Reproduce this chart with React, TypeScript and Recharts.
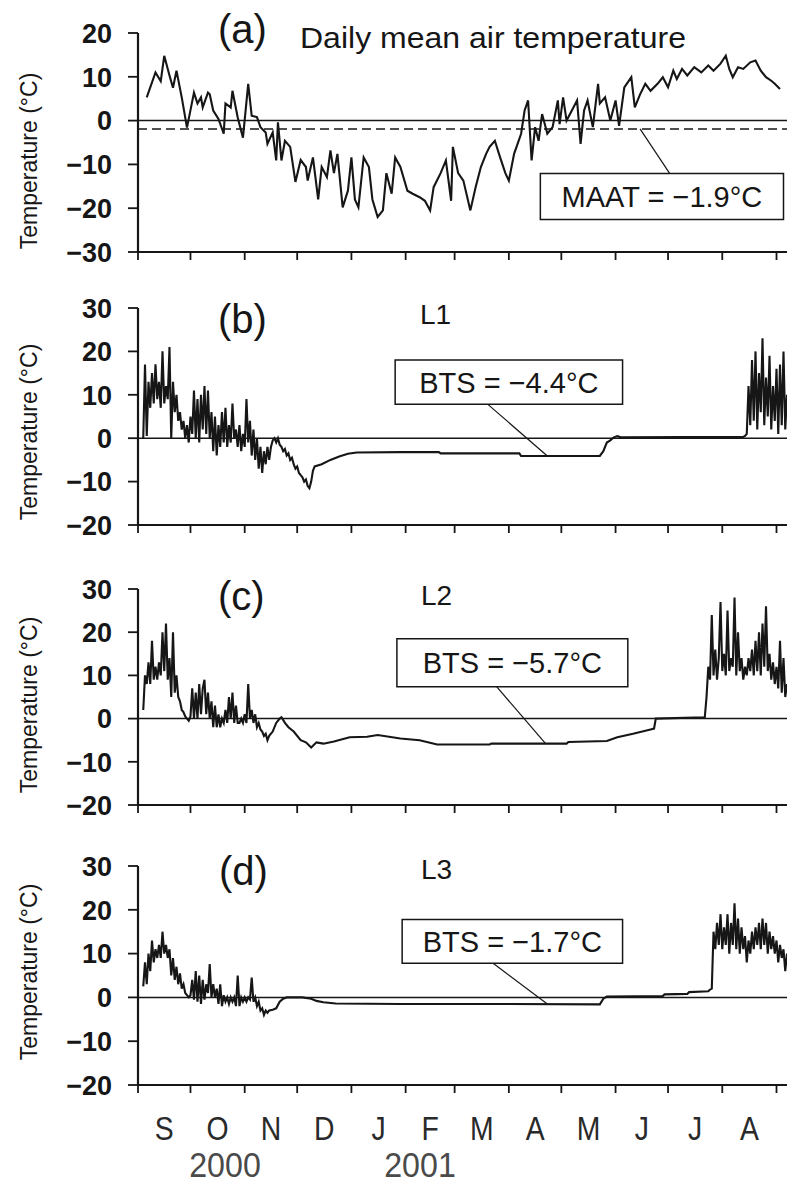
import React from 'react';
import { LineChart, Line, XAxis, YAxis, ReferenceLine, ReferenceArea } from 'recharts';

const FONT = '"Liberation Sans", Arial, Helvetica, sans-serif';
const INK = '#161616';

// x axis: days since 1 Sep 2000
const monthStartDays = [0, 30, 61, 91, 122, 153, 181, 212, 242, 273, 303, 334, 365];
const monthMidDays = [15, 45.5, 76, 106.5, 137.5, 167, 196.5, 227, 257.5, 288, 318.5, 349.5];
const monthLabels = ['S', 'O', 'N', 'D', 'J', 'F', 'M', 'A', 'M', 'J', 'J', 'A'];
const yearLabels = ['2000', '2001'];
const airTicks = [-30, -20, -10, 0, 10, 20];
const soilTicks = [-20, -10, 0, 10, 20, 30];

const maat = -1.9;
const btsL1 = -4.4;
const btsL2 = -5.7;
const btsL3 = -1.7;

// (a) daily mean air temperature
const airDays = [5, 10, 13, 15, 18, 20, 22, 25, 28, 32, 34, 36, 37, 40, 41, 43, 46, 49, 50, 53, 54, 57, 60, 63, 65, 68, 70, 73, 74, 77, 79, 80, 82, 84, 87, 90, 93, 96, 97, 100, 103, 105, 108, 110, 112, 114, 117, 120, 122, 124, 126, 129, 132, 134, 137, 140, 142, 145, 147, 150, 154, 157, 161, 164, 167, 169, 173, 176, 179, 180, 183, 186, 190, 193, 196, 199, 201, 204, 207, 210, 212, 215, 219, 221, 223, 225, 227, 229, 231, 234, 237, 240, 241, 243, 245, 248, 251, 253, 255, 257, 260, 263, 264, 267, 270, 273, 275, 278, 282, 284, 287, 290, 293, 297, 300, 303, 306, 308, 311, 314, 318, 322, 326, 329, 333, 336, 338, 340, 343, 346, 350, 353, 356, 359, 362, 364, 367];
const airTemp = [5.3, 11, 9, 14.8, 10.3, 7.5, 11.4, 5.3, -1.6, 6.4, 3.9, 5.3, 3, 6.4, 6, 2.3, 0.4, -3, 3.9, 3, 6.8, 0.7, -3.9, 8.4, 1.1, 0.8, -1.5, -2.7, -5.3, -2.7, -9.1, -0.4, -9.1, -4.6, -6, -14, -9, -10.6, -13.7, -8.4, -18, -10.6, -12.9, -6.8, -12, -7.6, -19.8, -16, -8.4, -18, -19.8, -8.4, -10.6, -18, -22, -20.5, -12, -16.7, -8.4, -10.6, -16, -16.7, -17.5, -18.3, -20.5, -15.2, -12, -9.1, -18.3, -6, -12, -13.7, -20.5, -15.2, -10.6, -7.6, -6, -4.6, -8.4, -12, -13.7, -7.6, -3, 2.3, 4.6, -9.1, -1.5, -4.6, 1.5, -3, -1.5, 4.6, -0.8, 5.3, 0, 2.3, 4.6, -5.3, 2.3, 4.6, -1.5, 8.4, 3.9, 5.3, 0, 4.6, -1.2, 7.6, 9.9, 3, 6, 8.4, 6.8, 8.4, 9.9, 7.6, 11.4, 9.5, 11.8, 10.3, 12.2, 11, 12.6, 11.4, 13, 14.8, 11.8, 9.9, 12.2, 11.8, 13.3, 13.7, 11.4, 9.9, 9.1, 8.4, 7.2];

// (b) L1 ground surface temperature
const l1Days = [3, 4, 5, 6, 7, 8, 9, 10, 11, 12, 13, 14, 15, 16, 17, 18, 19, 20, 21, 22, 23, 24, 25, 26, 27, 28, 29, 30, 31, 32, 33, 34, 35, 36, 37, 38, 39, 40, 41, 42, 43, 44, 45, 46, 47, 48, 49, 50, 51, 52, 53, 54, 55, 56, 57, 58, 59, 60, 61, 62, 63, 64, 65, 66, 67, 68, 69, 70, 71, 72, 73, 74, 75, 76, 77, 78, 79, 80, 81, 82, 83, 84, 85, 86, 87, 88, 89, 90, 91, 92, 93, 94, 95, 96, 97, 98, 99, 100, 101, 105, 110, 115, 120, 125, 150, 172, 173, 218, 219, 264, 266, 268, 270, 272, 274, 276, 346, 347, 348, 349, 350, 351, 352, 353, 354, 355, 356, 357, 358, 359, 360, 361, 362, 363, 364, 365, 366, 367, 368, 369, 370, 371];
const l1Temp = [0, 17, 0.5, 13, 7, 15, 8, 17, 9, 13, 7, 20, 8, 12, 9, 21, 0, 13, 6, 10, 4, 6, 2, 4, 0, 3, -1, 5, 1, 11, 0, 9, -1, 10, 2, 12, 1, 11, 0, 6, -3, 5, -4, 3, -2, 6, -1, 7, -2, 3, -1, 8, 0, 2, -2, 3, -3, 1, -2, 9, -1, 4, -4, 2, -5, 0, -7, -2, -8, -3, -6, -2, -5, -2, -0.5, 0, -1, 0, -1.5, -2, -3, -2.5, -4, -3.5, -5, -4.5, -6, -7, -6.5, -8, -8.5, -9, -10, -9.5, -11, -11.5, -10, -7.5, -6.5, -6, -5, -4.2, -3.6, -3.3, -3.2, -3.2, -3.5, -3.5, -4.1, -4.1, -3, -1, -0.5, 0.2, 0.5, 0.2, 0.3, 0.5, 1, 12, 3, 18, 4, 20, 2, 15, 6, 23, 3, 14, 5, 19, 2, 12, 4, 16, 1, 17, 3, 20, 2, 10];

// (c) L2 ground surface temperature
const l2Days = [3, 4, 5, 6, 7, 8, 9, 10, 11, 12, 13, 14, 15, 16, 17, 18, 19, 20, 21, 22, 23, 24, 25, 26, 27, 28, 29, 30, 31, 32, 33, 34, 35, 36, 37, 38, 39, 40, 41, 42, 43, 44, 45, 46, 47, 48, 49, 50, 51, 52, 53, 54, 55, 56, 57, 58, 59, 60, 61, 62, 63, 64, 65, 66, 67, 68, 69, 70, 71, 72, 73, 74, 75, 77, 79, 81, 82, 84, 86, 89, 93, 96, 99, 102, 106, 112, 121, 131, 137, 150, 161, 171, 201, 202, 245, 246, 268, 274, 283, 293, 295, 296, 324, 325, 326, 327, 328, 329, 330, 331, 332, 333, 334, 335, 336, 337, 338, 339, 340, 341, 342, 343, 344, 345, 346, 347, 348, 349, 350, 351, 352, 353, 354, 355, 356, 357, 358, 359, 360, 361, 362, 363, 364, 365, 366, 367, 368, 369, 370, 371];
const l2Temp = [2, 10, 8, 13, 8, 18, 9, 12, 9, 13, 10, 20, 11, 22, 9, 14, 5, 20, 6, 10, 5, 4, 2, 1.5, 0.5, 0, -0.5, 0.5, 7, 0, 6, 0, 8, 1, 7, 9, 1, 6, 0, 4, -2, 3, -2, 1, -2, 0, -1, 2, -1, 5, 0, 6, -1, 3, -1, -1, 0, -1, 1, -1, 8, 0, 2, -1, 1, -2, -1, -2.5, -3, -4, -3.5, -5, -4, -3, -1, 0, 0.3, -1, -2, -3, -5, -5.5, -6.7, -5.5, -5.8, -5.3, -4.3, -4.2, -3.8, -4.6, -5, -6, -6, -5.8, -5.8, -5.4, -5.2, -4.3, -3.5, -2.5, -2.3, 0, 0.3, 5, 12, 9, 24, 10, 16, 9, 14, 27, 11, 15, 10, 25, 11, 14, 12, 28, 10, 20, 11, 14, 9, 12, 10, 14, 11, 16, 10, 18, 11, 20, 10, 22, 12, 26, 11, 15, 9, 13, 8, 12, 7, 18, 6, 14, 5, 8];

// (d) L3 ground surface temperature
const l3Days = [3, 4, 5, 6, 7, 8, 9, 10, 11, 12, 13, 14, 15, 16, 17, 18, 19, 20, 21, 22, 23, 24, 25, 26, 27, 28, 29, 30, 31, 32, 33, 34, 35, 36, 37, 38, 39, 40, 41, 42, 43, 44, 45, 46, 47, 48, 49, 50, 51, 52, 53, 54, 55, 56, 57, 58, 59, 60, 61, 62, 63, 64, 65, 66, 67, 68, 69, 70, 71, 72, 73, 74, 75, 77, 79, 81, 83, 85, 94, 99, 102, 106, 113, 150, 200, 264, 266, 268, 300, 301, 314, 315, 326, 327, 328, 329, 330, 331, 332, 333, 334, 335, 336, 337, 338, 339, 340, 341, 342, 343, 344, 345, 346, 347, 348, 349, 350, 351, 352, 353, 354, 355, 356, 357, 358, 359, 360, 361, 362, 363, 364, 365, 366, 367, 368, 369, 370, 371];
const l3Temp = [2.5, 8, 3, 10, 6, 13, 8, 11, 9, 12, 9, 15, 10, 12, 9, 11, 5, 9, 4, 7, 3, 5.5, 2, 3, 1, 0.5, 0, 0.5, 4, -0.5, 6, -1, 5, -1.5, 4, -0.5, 3, 1, 7.6, 0, 3, 0, 2, -1.5, 3, -2, 0.5, -1, 0, -1.5, 0, -1, 0, -2, 5, -2, 0, -1, 0, -1, 0, -0.5, 4.5, -1, 0, -2, -1, -3, -2.5, -4, -3, -3.5, -3, -2.8, -2.5, -1, -0.3, 0, 0, -0.3, -0.8, -1.1, -1.4, -1.5, -1.5, -1.6, -0.3, 0.2, 0.3, 0.7, 0.8, 1.2, 1.4, 1.8, 2, 15, 11, 17, 12, 19, 11, 16, 12, 19, 10, 17, 12, 21.5, 11, 18, 10, 16, 11, 14, 8, 13, 10, 15, 11, 16, 12, 17, 11, 18, 12, 17, 10, 15, 11, 14, 10, 13, 8, 12, 9, 11, 6, 10];

const toPoints = (days: number[], vals: number[]) => days.map((d, i) => ({ day: d, v: vals[i] }));
const fmt = (v: number) => (v < 0 ? '\u2212' + Math.abs(v) : String(v));

const YTick = (props: any) => {
  const { x, y, payload } = props;
  return (
    <text x={x} y={y} dy="0.36em" textAnchor="end" fontFamily={FONT} fontSize={27} fontWeight={700} fill={INK}>
      {fmt(payload.value)}
    </text>
  );
};

const EmptyTick = () => <g />;

const MonthTick = (props: any) => {
  const { x, y, payload } = props;
  const i = monthMidDays.indexOf(payload.value);
  return (
    <g transform={`translate(${x},${y + 27}) scale(0.86,1)`}>
      <text x={0} y={0} textAnchor="middle" fontFamily={FONT} fontSize={33} fill="#2a2a2a">
        {monthLabels[i]}
      </text>
    </g>
  );
};

type Ann = { x1: number; x2: number; y1: number; y2: number; text: string; seg: { x: number; y: number }[] };

function Panel(props: {
  plotTop: number;
  plotBottom: number;
  yDomain: [number, number];
  yTicks: number[];
  points: { day: number; v: number }[];
  ann: Ann;
  dashed?: number;
  showMonths?: boolean;
}) {
  const { plotTop, plotBottom, yDomain, yTicks, points, ann, dashed, showMonths } = props;
  const xAxisH = 20;
  const monthsH = showMonths ? 50 : 0;
  const height = plotBottom - plotTop + 30 + xAxisH + monthsH;
  return (
    <div style={{ position: 'absolute', left: 0, top: plotTop - 30 }}>
      <LineChart width={794} height={height} margin={{ top: 30, right: 7, left: 38, bottom: 0 }}>
        <XAxis
          type="number"
          dataKey="day"
          domain={[0, 371]}
          ticks={monthStartDays}
          interval={0}
          allowDataOverflow
          height={xAxisH}
          tickSize={8}
          tick={<EmptyTick />}
          axisLine={{ stroke: INK, strokeWidth: 2.2 }}
          tickLine={{ stroke: INK, strokeWidth: 1.8 }}
        />
        {showMonths && (
          <XAxis
            xAxisId="m"
            type="number"
            dataKey="day"
            domain={[0, 371]}
            ticks={monthMidDays}
            interval={0}
            allowDataOverflow
            height={monthsH}
            axisLine={false}
            tickLine={false}
            tick={<MonthTick />}
          />
        )}
        <YAxis
          type="number"
          domain={yDomain}
          ticks={yTicks}
          interval={0}
          allowDataOverflow
          width={100}
          tickSize={10}
          tickMargin={16}
          tick={<YTick />}
          axisLine={{ stroke: INK, strokeWidth: 2.2 }}
          tickLine={{ stroke: INK, strokeWidth: 1.8 }}
        />
        <ReferenceLine y={0} stroke={INK} strokeWidth={1.5} />
        {dashed !== undefined && (
          <ReferenceLine y={dashed} stroke={INK} strokeWidth={1.5} strokeDasharray="9 5" />
        )}
        <Line
          data={points}
          dataKey="v"
          type="linear"
          dot={false}
          stroke={INK}
          strokeWidth={2.1}
          isAnimationActive={false}
        />
        <ReferenceLine segment={ann.seg} stroke={INK} strokeWidth={1.2} ifOverflow="visible" />
        <ReferenceArea
          x1={ann.x1}
          x2={ann.x2}
          y1={ann.y1}
          y2={ann.y2}
          fill="#ffffff"
          fillOpacity={1}
          stroke={INK}
          strokeWidth={1.5}
          ifOverflow="visible"
          label={{ value: ann.text, position: 'center', fontSize: 29, fill: INK, fontFamily: FONT }}
        />
      </LineChart>
    </div>
  );
}

export default function App() {
  const textProps = { fontFamily: FONT, fill: INK };
  return (
    <div style={{ position: 'absolute', left: 0, top: 0, width: 794, height: 1187, background: '#ffffff', overflow: 'hidden' }}>
      <Panel
        plotTop={33}
        plotBottom={252}
        yDomain={[-30, 20]}
        yTicks={airTicks}
        points={toPoints(airDays, airTemp)}
        dashed={maat}
        ann={{ x1: 230, x2: 369, y1: -12.1, y2: -22.6, text: `MAAT = ${fmt(maat)}°C`, seg: [{ x: 287, y: maat }, { x: 304, y: -12.1 }] }}
      />
      <Panel
        plotTop={308}
        plotBottom={525}
        yDomain={[-20, 30]}
        yTicks={soilTicks}
        points={toPoints(l1Days, l1Temp)}
        ann={{ x1: 147, x2: 277, y1: 18, y2: 7.8, text: `BTS = ${fmt(btsL1)}°C`, seg: [{ x: 200, y: 7.8 }, { x: 234, y: -4.1 }] }}
      />
      <Panel
        plotTop={589}
        plotBottom={805}
        yDomain={[-20, 30]}
        yTicks={soilTicks}
        points={toPoints(l2Days, l2Temp)}
        ann={{ x1: 148, x2: 280, y1: 18.5, y2: 7.4, text: `BTS = ${fmt(btsL2)}°C`, seg: [{ x: 205, y: 7.4 }, { x: 233, y: -5.8 }] }}
      />
      <Panel
        plotTop={866}
        plotBottom={1085}
        yDomain={[-20, 30]}
        yTicks={soilTicks}
        points={toPoints(l3Days, l3Temp)}
        showMonths
        ann={{ x1: 151, x2: 277, y1: 17.8, y2: 7.8, text: `BTS = ${fmt(btsL3)}°C`, seg: [{ x: 203, y: 7.8 }, { x: 234, y: -1.5 }] }}
      />
      <svg width={794} height={1187} style={{ position: 'absolute', left: 0, top: 0, pointerEvents: 'none' }}>
        <text x={218} y={43} fontSize={40} {...textProps}>(a)</text>
        <text x={300} y={48} fontSize={29} textLength={386} lengthAdjust="spacingAndGlyphs" {...textProps}>Daily mean air temperature</text>
        <text x={218} y={333} fontSize={40} {...textProps}>(b)</text>
        <text x={420} y={324} fontSize={28} {...textProps}>L1</text>
        <text x={218} y={610} fontSize={40} {...textProps}>(c)</text>
        <text x={421} y={605} fontSize={28} {...textProps}>L2</text>
        <text x={219} y={885} fontSize={40} {...textProps}>(d)</text>
        <text x={421} y={879} fontSize={28} {...textProps}>L3</text>
        {[161, 432, 705, 972].map((cy, i) => (
          <text key={i} x={37} y={cy} fontSize={23} textAnchor="middle" transform={`rotate(-90 37 ${cy})`} {...textProps}>
            Temperature (°C)
          </text>
        ))}
        <g transform="translate(225,1177) scale(0.92,1)">
          <text x={0} y={0} fontSize={35} textAnchor="middle" fontFamily={FONT} fill="#4a4a4a">{yearLabels[0]}</text>
        </g>
        <g transform="translate(420,1177) scale(0.92,1)">
          <text x={0} y={0} fontSize={35} textAnchor="middle" fontFamily={FONT} fill="#4a4a4a">{yearLabels[1]}</text>
        </g>
      </svg>
    </div>
  );
}
